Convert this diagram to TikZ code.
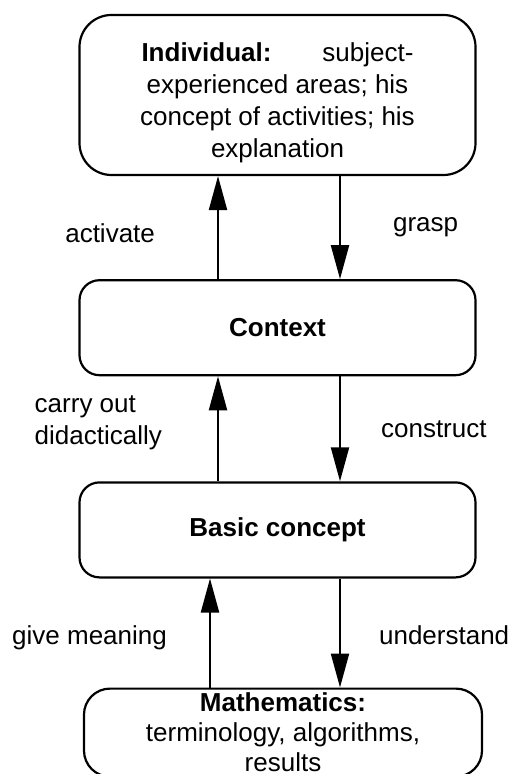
\documentclass[tikz,border=0pt]{standalone}
\usepackage{fontspec}
\setmainfont{Liberation Sans}
\usetikzlibrary{arrows.meta,positioning}
\tikzset{
  every picture/.style = {
    line width = 1.1pt,
    >={Triangle[length=17pt,width=9pt]},
  }
  ,
  stage/.style = {
    rectangle,
    rounded corners = 10pt,
    draw,
    align = center,
    font = \fontsize{13}{16}\selectfont,
    minimum width = 198pt,
    minimum height = 47.5pt,
    inner sep = 2pt
  }
  , % labels of arrows
  label-arrow/.style = {
    font = \fontsize{13}{16}\selectfont,
    inner sep = 0pt,
    align = left
  }
}

\begin{document}
\begin{tikzpicture}
\useasboundingbox (-138.75pt,47.5pt) rectangle (116.75pt,-339.5pt);
\node [stage, rounded corners = 16pt, minimum height = 80pt] (ind) {\rule{0pt}{17.5pt}\makebox[136pt]{\textbf{Individual:}\hfill subject-}\\experienced areas; his\\concept of activities; his\\explanation};
\node [stage, below = 51.5pt of ind] (ctx) {\textbf{Context}};
\node [stage, below = 52.5pt of ctx] (basic) {\textbf{Basic concept}};
\node [stage, rounded corners = 13pt, minimum width = 199pt, minimum height = 44pt, inner sep = 0.5pt, font = \fontsize{13}{15}\selectfont, below = 54.5pt of basic, xshift = 2.75pt] (math) {\textbf{Mathematics:}\\terminology, algorithms,\\results};

% Individual <-> Context
\draw [->] ([xshift=-29.75pt]ctx.north) -- node [label-arrow, left = 31pt, yshift = -2.75pt] {activate} ([xshift=-29.75pt]ind.south);
\draw [->] ([xshift=31.25pt]ind.south) -- node [label-arrow, right = 26pt] {grasp} ([xshift=31.25pt]ctx.north);

% Context <-> Basic concept
\draw [->] ([xshift=-29.75pt]basic.north) -- node [label-arrow, left = 27.5pt, yshift = 3.25pt] {carry out\\didactically} ([xshift=-29.75pt]ctx.south);
\draw [->] ([xshift=31.25pt]ctx.south) -- node [label-arrow, right = 20pt] {construct} ([xshift=31.25pt]basic.north);

% Basic concept <-> Mathematics
\draw [->] ([xshift=-33.75pt]basic.south |- math.north) -- node [label-arrow, left = 21pt, yshift = -2.25pt] {give meaning} ([xshift=-33.75pt]basic.south);
\draw [->] ([xshift=31.25pt]basic.south) -- node [label-arrow, right = 19pt, yshift = -1.25pt] {understand} ([xshift=31.25pt]basic.south |- math.north);
\end{tikzpicture}
\end{document}
